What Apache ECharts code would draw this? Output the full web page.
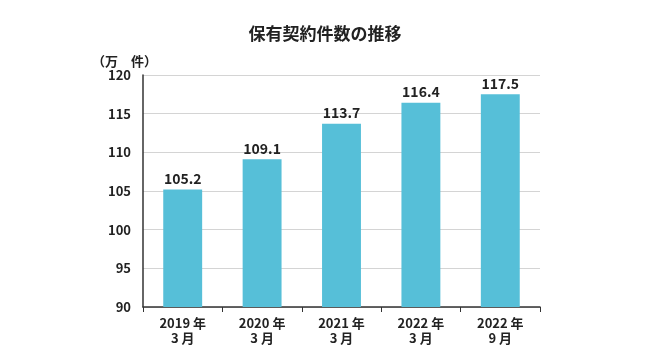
<!DOCTYPE html>
<html><head><meta charset="utf-8">
<script src="https://cdn.jsdelivr.net/npm/echarts@6/dist/echarts.min.js"></script>
<style>html,body{margin:0;padding:0;background:#fff}#c{width:650px;height:360px}</style>
</head><body><div id="c"></div>
<script>
const categories = ['2019 年\n3 月', '2020 年\n3 月', '2021 年\n3 月', '2022 年\n3 月', '2022 年\n9 月'];
const values = [105.2, 109.1, 113.7, 116.4, 117.5];
const title = '保有契約件数の推移';
const unitLabel = '（万　件）';
const font = '"Noto Sans CJK JP", "Noto Sans", sans-serif';
const chart = echarts.init(document.getElementById('c'), null, {renderer: 'canvas'});
chart.setOption({
  animation: false,
  title: {text: title, left: 'center', top: 20, textStyle: {fontFamily: font, fontSize: 17, fontWeight: 'bold', color: '#222'}},
  graphic: [{type: 'text', left: 92, top: 55, style: {text: unitLabel, fontFamily: font, fontSize: 13, fontWeight: 'bold', fill: '#222'}}],
  grid: {left: 143, right: 110, top: 75, bottom: 53},
  xAxis: {
    type: 'category', data: categories,
    axisLine: {lineStyle: {color: '#333', width: 1.5}},
    axisTick: {show: true, alignWithLabel: false, length: 5, lineStyle: {color: '#333'}},
    axisLabel: {fontFamily: font, fontSize: 13, fontWeight: 'bold', color: '#222', margin: 9, lineHeight: 15}
  },
  yAxis: {
    type: 'value', min: 90, max: 120, interval: 5,
    axisLine: {show: true, lineStyle: {color: '#333', width: 1.5}},
    axisTick: {show: false},
    splitLine: {lineStyle: {color: '#d4d4d4', width: 1}},
    axisLabel: {fontFamily: font, fontSize: 13, fontWeight: 'bold', color: '#222', margin: 12}
  },
  series: [{
    type: 'bar', data: values, barWidth: '49%',
    itemStyle: {color: '#56bfd8'},
    label: {show: true, position: 'top', distance: 4, fontFamily: font, fontSize: 14, fontWeight: 'bold', color: '#222', formatter: p => p.value.toFixed(1)}
  }]
});
</script></body></html>
